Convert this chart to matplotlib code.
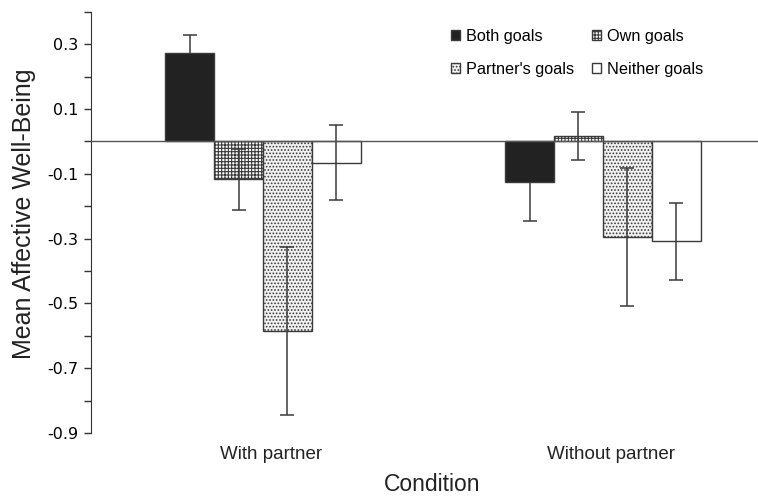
import numpy as np
import matplotlib.pyplot as plt
from matplotlib.ticker import MultipleLocator

plt.rcParams['hatch.linewidth'] = 0.8

conditions = ["With partner", "Without partner"]
series = ["Both goals", "Own goals", "Partner's goals", "Neither goals"]
means = {
    "Both goals": [0.274, -0.126],
    "Own goals": [-0.117, 0.018],
    "Partner's goals": [-0.585, -0.295],
    "Neither goals": [-0.065, -0.308],
}
errors = {
    "Both goals": [0.056, 0.12],
    "Own goals": [0.095, 0.074],
    "Partner's goals": [0.26, 0.213],
    "Neither goals": [0.117, 0.119],
}
y_ticks = [-0.9, -0.7, -0.5, -0.3, -0.1, 0.1, 0.3]

styles = {
    "Both goals": dict(color="#222222", hatch=None),
    "Own goals": dict(color="white", hatch="+++++"),
    "Partner's goals": dict(color="#f2f2f2", hatch="....."),
    "Neither goals": dict(color="white", hatch=None),
}

fig = plt.figure(figsize=(7.58, 4.96), dpi=100)
ax = fig.add_axes([0.120, 0.127, 0.880, 0.849])

x = np.arange(len(conditions))
w = 0.144
handles = {}
for i, s in enumerate(series):
    pos = x + (i - 1.5) * w
    handles[s] = ax.bar(pos, means[s], width=w, color=styles[s]["color"], hatch=styles[s]["hatch"],
                        edgecolor="#3a3a3a", linewidth=1.0, label=s, zorder=2)
    # error bars sit behind the solid black bars, in front of the others
    ez = 1 if s == "Both goals" else 3
    ax.errorbar(pos, means[s], yerr=errors[s], fmt="none", ecolor="#3a3a3a",
                elinewidth=1.1, capsize=5, capthick=1.1, zorder=ez)

ax.axhline(0, color="#555555", linewidth=1.0, zorder=4)

ax.set_xlim(-0.506, 1.456)
ax.set_ylim(-0.9, 0.4)
ax.set_yticks(y_ticks)
ax.set_yticklabels([f"{v:.1f}" for v in y_ticks], fontfamily="DejaVu Sans", fontsize=11.5)
ax.yaxis.set_minor_locator(MultipleLocator(0.1))
ax.tick_params(axis="y", which="both", direction="out", length=5, width=1, color="#333333",
               pad=4)
ax.set_xticks(x + 0.024)
ax.set_xticklabels(conditions, fontfamily="Liberation Sans", fontsize=13.5, color="#222222")
ax.tick_params(axis="x", length=0, pad=9)
ax.xaxis.set_ticks_position("none")

for sp in ["top", "right", "bottom"]:
    ax.spines[sp].set_visible(False)
ax.spines["left"].set_color("#333333")

ax.set_ylabel("Mean Affective Well-Being", fontfamily="Liberation Sans", fontsize=18,
              color="#222222")
ax.yaxis.set_label_coords(-0.083, 0.52)
ax.set_xlabel("Condition", fontfamily="Liberation Sans", fontsize=16.5, color="#222222")
ax.xaxis.set_label_coords(0.512, -0.095)

order = ["Both goals", "Partner's goals", "Own goals", "Neither goals"]
ax.legend([handles[s] for s in order], order, ncol=2, frameon=False, loc="upper right",
          bbox_to_anchor=(0.94, 0.995),
          prop={"family": "Liberation Sans", "size": 11.7}, handlelength=0.55,
          handleheight=0.55, handletextpad=0.4, columnspacing=1.05, labelspacing=1.1)

fig.savefig("out.png", dpi=100)
